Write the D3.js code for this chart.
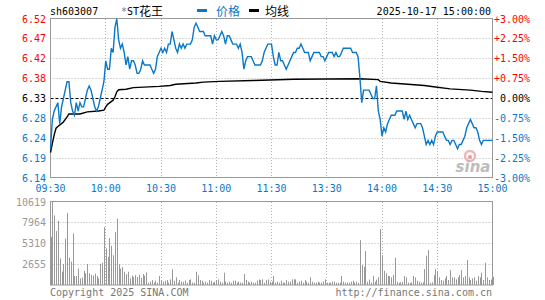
<!DOCTYPE html>
<html lang="zh-CN">
<head>
<meta charset="UTF-8" />
<title>*ST花王 分时图</title>
<script src="https://d3js.org/d3.v7.min.js"></script>
<style>
    body { margin: 0; background: #fff; }
    svg text { font-family: "DejaVu Sans Mono", monospace; font-size: 10px; }
    svg text.cjk { font-family: "Noto Sans CJK SC", sans-serif; font-size: 12px; }
</style>
</head>
<body>
<div id="chart"></div>
<script>
var w = 545, h = 300;

// header texts
var stockCode = "sh603007";
var stockName = "*ST花王";
var legendNames = ["价格", "均线"];
var stamp = "2025-10-17 15:00:00";
var prevClose = 6.33;

// axis labels
var timeLabels = ["09:30", "10:00", "10:30", "11:00", "11:30", "13:30", "14:00", "14:30", "15:00"];
var priceLabels = ["6.52", "6.47", "6.42", "6.38", "6.33", "6.28", "6.24", "6.19", "6.14"];
var pctLabels = ["+3.00%", "+2.25%", "+1.50%", "+0.75%", "0.00%", "-0.75%", "-1.50%", "-2.25%", "-3.00%"];
var volLabels = ["10619", "7964", "5310", "2655"];
var volMax = 10619;

// one price per minute, 09:30 .. 11:30, 13:01 .. 15:00
var price = [
    6.21, 6.28, 6.30, 6.31, 6.32, 6.27, 6.31, 6.33, 6.35, 6.37,
    6.37, 6.32, 6.30, 6.29, 6.32, 6.30, 6.32, 6.31, 6.31, 6.33,
    6.35, 6.36, 6.35, 6.33, 6.31, 6.30, 6.31, 6.33, 6.35, 6.37,
    6.42, 6.40, 6.40, 6.45, 6.44, 6.50, 6.52, 6.47, 6.45, 6.46,
    6.44, 6.41, 6.43, 6.40, 6.42, 6.42, 6.41, 6.39, 6.39, 6.40,
    6.42, 6.41, 6.41, 6.41, 6.41, 6.40, 6.39, 6.40, 6.43, 6.44,
    6.45, 6.44, 6.45, 6.44, 6.46, 6.46, 6.49, 6.47, 6.45, 6.44,
    6.46, 6.45, 6.46, 6.45, 6.46, 6.46, 6.46, 6.47, 6.50, 6.51,
    6.50, 6.49, 6.49, 6.49, 6.48, 6.48, 6.48, 6.48, 6.46, 6.48,
    6.47, 6.47, 6.48, 6.49, 6.48, 6.46, 6.48, 6.48, 6.47, 6.46,
    6.46, 6.46, 6.45, 6.46, 6.44, 6.40, 6.42, 6.43, 6.43, 6.43,
    6.42, 6.41, 6.41, 6.41, 6.41, 6.42, 6.44, 6.45, 6.46, 6.46, 6.46,
    6.43, 6.41, 6.41, 6.44, 6.42, 6.42, 6.41, 6.40, 6.41, 6.42,
    6.43, 6.44, 6.44, 6.45, 6.45, 6.46, 6.45, 6.44, 6.44, 6.44,
    6.42, 6.43, 6.44, 6.44, 6.44, 6.44, 6.43, 6.43, 6.42, 6.43,
    6.44, 6.44, 6.44, 6.43, 6.44, 6.43, 6.43, 6.44, 6.45, 6.45,
    6.45, 6.45, 6.45, 6.44, 6.44, 6.44, 6.43, 6.38, 6.32, 6.35,
    6.35, 6.35, 6.35, 6.34, 6.33, 6.33, 6.36, 6.30, 6.28, 6.24,
    6.26, 6.25, 6.27, 6.28, 6.29, 6.29, 6.29, 6.30, 6.30, 6.30,
    6.30, 6.28, 6.30, 6.28, 6.29, 6.28, 6.27, 6.26, 6.27, 6.27,
    6.27, 6.26, 6.24, 6.22, 6.23, 6.22, 6.23, 6.22, 6.24, 6.25,
    6.25, 6.25, 6.25, 6.24, 6.23, 6.23, 6.22, 6.23, 6.23, 6.22,
    6.21, 6.22, 6.22, 6.23, 6.24, 6.26, 6.27, 6.28, 6.27, 6.26,
    6.26, 6.25, 6.23, 6.22, 6.23, 6.23, 6.23, 6.23, 6.23, 6.23
];

// average price line, read at its bends (minute index, price)
var avgMin = [0, 1, 2, 3, 4, 6, 7, 9, 10, 16, 20, 26, 29, 30, 31, 34, 35, 36, 37, 41, 45, 59, 65, 68, 79, 83, 92, 110, 132, 168, 178, 179, 185, 194, 203, 208, 217, 228, 234, 240];
var avgVal = [6.201, 6.223, 6.243, 6.259, 6.263, 6.270, 6.274, 6.286, 6.293, 6.293, 6.298, 6.300, 6.302, 6.310, 6.316, 6.326, 6.334, 6.346, 6.351, 6.352, 6.356, 6.359, 6.361, 6.364, 6.367, 6.369, 6.371, 6.373, 6.376, 6.377, 6.375, 6.371, 6.367, 6.364, 6.361, 6.358, 6.353, 6.350, 6.347, 6.345];

// volume per minute
var volume = [
    6160, 10619, 8900, 6900, 8200, 3400, 1700, 2700, 5950, 9220,
    3500, 3000, 6600, 1150, 1150, 2100, 850, 950, 1800, 1500,
    2700, 1500, 1300, 1200, 1450, 1150, 850, 2700, 2850, 7400,
    4700, 3600, 6000, 5000, 3800, 6800, 8500, 2700, 2100, 2300,
    1700, 1400, 1700, 850, 1200, 1000, 1250, 1000, 1300, 900,
    1400, 1200, 1600, 300, 425, 640, 300, 550, 300, 1150,
    640, 425, 550, 640, 300, 720, 2000, 550, 980, 300,
    640, 425, 425, 550, 300, 640, 720, 300, 300, 1700,
    1230, 640, 550, 300, 425, 300, 640, 550, 300, 425,
    640, 720, 425, 300, 1570, 425, 300, 425, 300, 550,
    550, 300, 425, 300, 300, 1400, 640, 425, 300, 425,
    300, 300, 550, 720, 640, 720, 300, 640, 720, 425, 425,
    1150, 300, 425, 300, 550, 300, 300, 640, 425, 425,
    720, 720, 720, 300, 425, 550, 300, 640, 425, 300,
    980, 425, 300, 300, 425, 300, 300, 425, 720, 300,
    300, 300, 425, 425, 300, 300, 300, 1150, 425, 300,
    300, 300, 425, 550, 300, 425, 300, 5740, 2550, 2340,
    4335, 400, 700, 300, 1150, 400, 700, 1000, 7140, 3825,
    1830, 1500, 1150, 1150, 980, 1280, 3485, 400, 300, 350,
    400, 1150, 980, 300, 250, 350, 1150, 980, 550, 400,
    300, 350, 2040, 3740, 4460, 300, 350, 1250, 2040, 1700,
    980, 640, 550, 850, 1150, 640, 1900, 980, 980, 720,
    980, 1275, 1900, 980, 1150, 3190, 980, 640, 850, 980,
    550, 1150, 980, 1570, 640, 2850, 980, 640, 700, 1050
];

var blue = "#0a78c8", red = "#ff0000", frame = "#999", grid = "#b4b4b4";

var svg = d3.select("#chart")
    .append("svg")
    .attr("width", w)
    .attr("height", h);

// scales
var x = d3.scaleLinear().domain([0, 240]).range([50.5, 492.5]);
var yP = d3.scaleLinear().domain([prevClose * 0.97, prevClose * 1.03]).range([178, 19]);
var yV = d3.scaleLinear().domain([0, volMax]).range([285, 202]);

function snap(v) { return Math.floor(v) + 0.5; }

var minuteTicks = d3.range(0, 241, 30);
var levels = d3.range(9).map(function(i) { return prevClose * (1.03 - i * 0.0075); });

// ---------- price panel ----------
// horizontal grid
svg.selectAll("line.hgrid")
    .data(levels.filter(function(d, i) { return i > 0 && i < 8 && i !== 4; }))
    .enter().append("line")
    .attr("x1", 50.5).attr("x2", 492.5)
    .attr("y1", function(d) { return snap(yP(d)); })
    .attr("y2", function(d) { return snap(yP(d)); })
    .attr("stroke", grid).attr("stroke-dasharray", "1,2");

// vertical grid
svg.selectAll("line.vgrid")
    .data(minuteTicks.slice(1, 8))
    .enter().append("line")
    .attr("x1", function(d) { return snap(x(d)); })
    .attr("x2", function(d) { return snap(x(d)); })
    .attr("y1", 19).attr("y2", 178)
    .attr("stroke", grid).attr("stroke-dasharray", "1,2");

// sina watermark
svg.append("circle").attr("cx", 470).attr("cy", 156).attr("r", 5)
    .attr("fill", "none").attr("stroke", "#f2b6b6").attr("stroke-width", 2.5);
svg.append("circle").attr("cx", 470).attr("cy", 157).attr("r", 2)
    .attr("fill", "#e99");
svg.append("text").attr("x", 473).attr("y", 172)
    .attr("text-anchor", "middle")
    .style("font-family", "DejaVu Sans").style("font-size", "15px")
    .style("font-weight", "bold").style("font-style", "italic")
    .attr("fill", "#bdbdbd")
    .text("sina");

// previous close
svg.append("line")
    .attr("x1", 50.5).attr("x2", 492.5)
    .attr("y1", snap(yP(prevClose))).attr("y2", snap(yP(prevClose)))
    .attr("stroke", "#000").attr("stroke-dasharray", "3,2");

// frame
svg.append("rect")
    .attr("x", 50.5).attr("y", 18.5).attr("width", 442).attr("height", 159)
    .attr("fill", "none").attr("stroke", frame);

// average line
svg.append("path")
    .datum(avgMin)
    .attr("fill", "none").attr("stroke", "#000").attr("stroke-width", 1.4)
    .attr("d", d3.line()
        .x(function(d) { return x(d); })
        .y(function(d, i) { return yP(avgVal[i]); }));

// price line
svg.append("path")
    .datum(price)
    .attr("fill", "none").attr("stroke", blue).attr("stroke-width", 1.4)
    .attr("d", d3.line()
        .x(function(d, i) { return x(i); })
        .y(function(d) { return yP(d); }));

// left price labels
svg.selectAll("text.plab")
    .data(priceLabels)
    .enter().append("text")
    .attr("x", 46)
    .attr("y", function(d, i) { return yP(levels[i]) + 3.5; })
    .attr("text-anchor", "end")
    .attr("fill", function(d, i) { return i < 4 ? red : (i === 4 ? "#000" : blue); })
    .text(function(d) { return d; });

// right percent labels
svg.selectAll("text.pct")
    .data(pctLabels)
    .enter().append("text")
    .attr("x", 530)
    .attr("y", function(d, i) { return yP(levels[i]) + 3.5; })
    .attr("text-anchor", "end")
    .attr("fill", function(d, i) { return i < 4 ? red : (i === 4 ? "#000" : blue); })
    .text(function(d) { return d; });

// time labels
svg.selectAll("text.tlab")
    .data(timeLabels)
    .enter().append("text")
    .attr("x", function(d, i) { return x(minuteTicks[i]); })
    .attr("y", 192)
    .attr("text-anchor", "middle")
    .attr("fill", blue)
    .text(function(d) { return d; });

// ---------- volume panel ----------
svg.selectAll("line.vhgrid")
    .data([0.75, 0.5, 0.25])
    .enter().append("line")
    .attr("x1", 50.5).attr("x2", 492.5)
    .attr("y1", function(d) { return snap(yV(d * volMax)); })
    .attr("y2", function(d) { return snap(yV(d * volMax)); })
    .attr("stroke", grid).attr("stroke-dasharray", "1,2");

svg.selectAll("line.vvgrid")
    .data(minuteTicks.slice(1, 8))
    .enter().append("line")
    .attr("x1", function(d) { return snap(x(d)); })
    .attr("x2", function(d) { return snap(x(d)); })
    .attr("y1", 202).attr("y2", 285)
    .attr("stroke", grid).attr("stroke-dasharray", "1,2");

svg.selectAll("rect.bar")
    .data(volume)
    .enter().append("rect")
    .attr("x", function(d, i) { return Math.round(x(i)); })
    .attr("y", function(d) { return yV(d); })
    .attr("width", 1)
    .attr("height", function(d) { return 285 - yV(d); })
    .attr("fill", "#999");

svg.append("rect")
    .attr("x", 50.5).attr("y", 201.5).attr("width", 442).attr("height", 83.5)
    .attr("fill", "none").attr("stroke", frame);

svg.selectAll("text.vlab")
    .data(volLabels)
    .enter().append("text")
    .attr("x", 46)
    .attr("y", function(d, i) { return yV(volMax * (1 - i * 0.25)) + 3.5; })
    .attr("text-anchor", "end")
    .attr("fill", "#999")
    .text(function(d) { return d; });

// ---------- header ----------
svg.append("text").attr("x", 50).attr("y", 15).attr("fill", "#000").text(stockCode);
svg.append("text").attr("x", 121).attr("y", 15).attr("fill", "#777").text(stockName.slice(0, 1));
svg.append("text").attr("x", 127).attr("y", 15).attr("fill", "#000").text(stockName.slice(1, 3));
svg.append("text").attr("class", "cjk").attr("x", 139).attr("y", 16).attr("fill", "#000").text(stockName.slice(3));

svg.append("rect").attr("x", 197).attr("y", 9).attr("width", 10).attr("height", 3).attr("fill", blue);
svg.append("text").attr("class", "cjk").attr("x", 216).attr("y", 16).attr("fill", blue).text(legendNames[0]);
svg.append("rect").attr("x", 249).attr("y", 9).attr("width", 10).attr("height", 3).attr("fill", "#000");
svg.append("text").attr("class", "cjk").attr("x", 265).attr("y", 16).attr("fill", "#000").text(legendNames[1]);

svg.append("text").attr("x", 491).attr("y", 15).attr("text-anchor", "end").attr("fill", "#000").text(stamp);

// footer
svg.append("text").attr("x", 50).attr("y", 296).attr("fill", "#777").text("Copyright 2025 SINA.COM");
svg.append("text").attr("x", 492).attr("y", 296).attr("text-anchor", "end").attr("fill", "#777").text("http://finance.sina.com.cn");
</script>
</body>
</html>
